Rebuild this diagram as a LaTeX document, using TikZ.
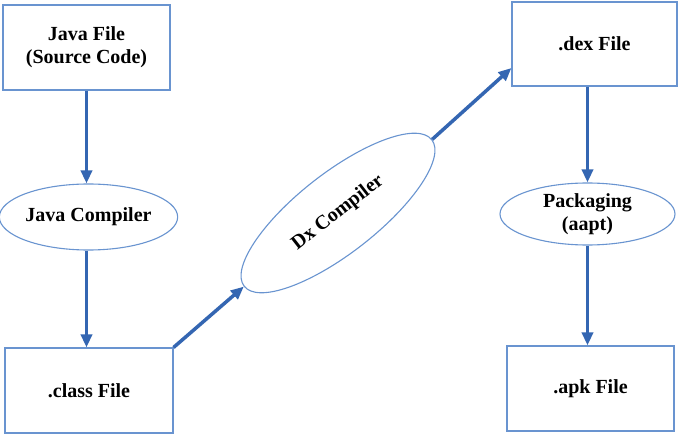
\documentclass[tikz,border=0pt]{standalone}
\usepackage{fontspec}
\setmainfont{Liberation Serif}
\usetikzlibrary{shapes.geometric,arrows.meta}
\definecolor{edgeblue}{RGB}{105,148,208}
\definecolor{flowblue}{RGB}{52,102,178}
\begin{document}
\begin{tikzpicture}[x=1pt,y=-1pt,
  filebox/.style={draw=edgeblue,line width=1.1pt,rectangle,inner sep=0pt,
    font=\fontsize{20}{23}\selectfont\bfseries,align=center},
  stage/.style={draw=edgeblue,line width=1.1pt,ellipse,inner sep=0pt,
    font=\fontsize{20}{23}\selectfont\bfseries,align=center},
  flow/.style={draw=flowblue,line width=3.5pt,-{Triangle[length=13pt,width=11pt]}}]
\path[use as bounding box,fill=white] (0,0) rectangle (680,435);
% left column
\node[filebox,minimum width=167pt,minimum height=85pt] (java) at (86.5,47.5) {Java File\\(Source Code)};
\node[stage,minimum width=173pt,minimum height=66pt] (jc) at (88.5,217) {Java Compiler};
\node[filebox,minimum width=168pt,minimum height=85pt] (cls) at (89,390.5) {.class File};
% middle stage
\node[stage,rotate=38,minimum width=238pt,minimum height=80pt] (dx) at (338,213) {Dx Compiler};
% right column
\node[filebox,minimum width=165pt,minimum height=84pt] (dex) at (594.5,44) {.dex File};
\node[stage,minimum width=175pt,minimum height=62pt] (pk) at (587.5,214) {Packaging\\(aapt)};
\node[filebox,minimum width=167pt,minimum height=85pt] (apk) at (590.5,388.5) {.apk File};
% connectors
\draw[flow] (java.south) -- (java.south |- jc.north);
\draw[flow] (java.south |- jc.south) -- (java.south |- cls.north);
\draw[flow] (cls.north east) -- (dx.west);
\draw[flow] (dx.east) -- ([yshift=-24pt]dex.west);
\draw[flow] (pk.north |- dex.south) -- (pk.north);
\draw[flow] (pk.south) -- (pk.south |- apk.north);
\end{tikzpicture}
\end{document}
